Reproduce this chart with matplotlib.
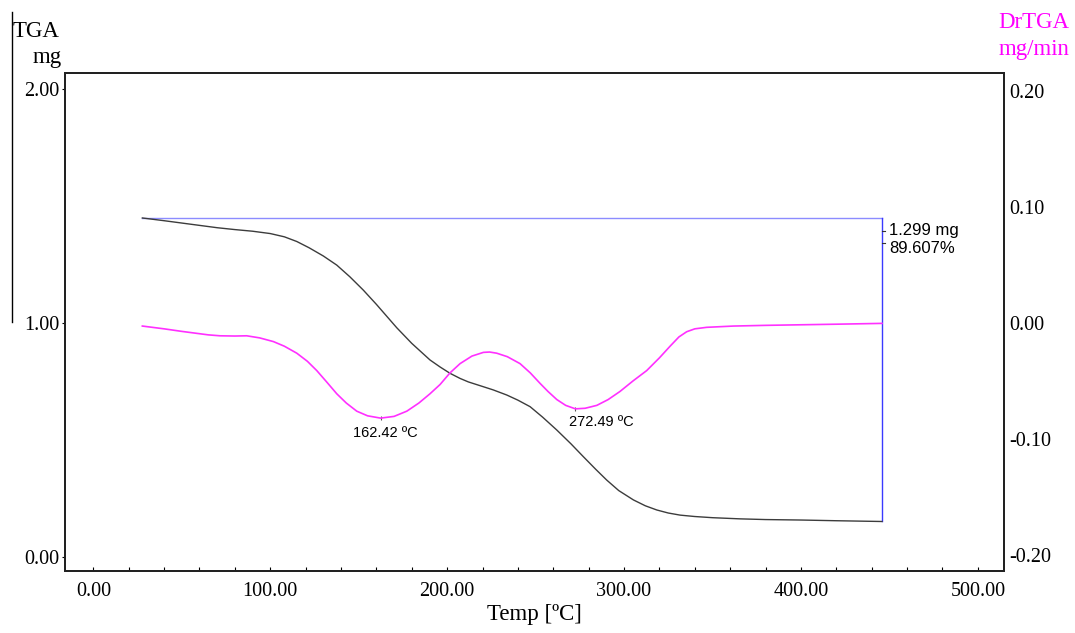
import numpy as np
import matplotlib
matplotlib.use("Agg")
import matplotlib.pyplot as plt
from matplotlib.lines import Line2D

# TGA curve, mass (mg) vs temperature
tga_temp = [27.7, 40, 50, 60, 70, 80, 90, 100, 108, 115, 122, 130, 137.6, 145,
            152.6, 160, 171.5, 180, 190.3, 196, 201.6, 207.3, 212, 218.6, 226,
            233.7, 240, 246.9, 254, 262, 270, 277, 284, 290.2, 297, 305.3, 312,
            318.5, 325, 331.7, 340, 350, 365.6, 380, 400, 420, 445.8]
tga_mass = [1.4497, 1.438, 1.428, 1.418, 1.408, 1.400, 1.393, 1.383, 1.369, 1.349,
            1.322, 1.287, 1.248, 1.198, 1.141, 1.080, 0.980, 0.913, 0.842, 0.812,
            0.785, 0.763, 0.748, 0.732, 0.714, 0.692, 0.670, 0.642, 0.597, 0.542,
            0.483, 0.428, 0.374, 0.328, 0.283, 0.243, 0.218, 0.200, 0.187, 0.178,
            0.172, 0.167, 0.162, 0.159, 0.157, 0.154, 0.1507]

# DrTGA curve, mg/min vs temperature
dtg_temp = [27.7, 40, 50, 58.5, 65, 71.6, 80, 86.7, 94, 101.8, 108, 115, 121,
            126.3, 132, 137.6, 143, 148.9, 155, 162.4, 170, 177.2, 184, 190.3,
            196, 201.6, 207.3, 214, 220.5, 224, 228, 234, 241.2, 247, 252.5, 257,
            262, 267, 272.5, 278, 284.6, 291, 297.7, 305, 312.8, 320, 326, 331,
            335.4, 340, 346.7, 361.8, 380, 400, 420, 445.8]
dtg_rate = [-0.0026, -0.005, -0.0072, -0.0089, -0.0102, -0.011, -0.0112, -0.011,
            -0.0128, -0.016, -0.020, -0.026, -0.033, -0.041, -0.051, -0.061,
            -0.069, -0.076, -0.080, -0.082, -0.0805, -0.076, -0.069, -0.061,
            -0.053, -0.043, -0.035, -0.0285, -0.0253, -0.0250, -0.026, -0.029,
            -0.035, -0.043, -0.052, -0.059, -0.066, -0.071, -0.074, -0.0735,
            -0.071, -0.066, -0.059, -0.050, -0.041, -0.030, -0.020, -0.012,
            -0.0075, -0.005, -0.0037, -0.0026, -0.002, -0.0015, -0.001, -0.0003]

peak_temps = [162.42, 272.49]
peak_rates = [-0.082, -0.074]
peak_labels = ["162.42 ºC", "272.49 ºC"]

step_temp = 445.8
loss_labels = ["1.299 mg", "89.607%"]

serif = "Liberation Serif"
sans = "Liberation Sans"

fig = plt.figure(figsize=(10.75, 6.33), dpi=100)
ax = fig.add_axes([0.0605, 0.098, 0.8735, 0.787])
ax2 = ax.twinx()

ax.plot(tga_temp, tga_mass, color="#3c3c3c", lw=1.0, zorder=3)
ax2.plot(dtg_temp, dtg_rate, color="#ff30ff", lw=1.2, zorder=3)

# mass loss step
m0, m1 = tga_mass[0], tga_mass[-1]
ax.plot([tga_temp[0], step_temp], [m0, m0], color="#8c8cff", lw=1.0, zorder=2)
ax.plot([step_temp, step_temp], [m0, m1], color="#3a3aff", lw=1.0, zorder=2)
for yy in [1.396, 1.344]:
    ax.plot([step_temp, step_temp + 1.8], [yy, yy], color="#333333", lw=0.8)
ax.text(449.8, 1.398, loss_labels[0], fontsize=12, family=sans, va="center", ha="left")
ax.text(449.8, 1.317, loss_labels[1], fontsize=12, family=sans, va="center", ha="left")

# DTG peaks
ax2.plot(peak_temps, peak_rates, ls="none", marker="|", ms=3, color="#555555", mew=0.8)
ax2.text(164.9, -0.0948, peak_labels[0], fontsize=10.5, family=sans, ha="center", va="center")
ax2.text(287.4, -0.0853, peak_labels[1], fontsize=10.5, family=sans, ha="center", va="center")

ax.set_xlim(-16, 514.8)
ax.set_ylim(-0.061, 2.071)
ax2.set_ylim(-0.2138, 0.2158)

ax.set_xticks(np.arange(0, 501, 100))
ax.set_xticks(np.arange(0, 501, 20), minor=True)
ax.set_xticklabels([f"{v:.2f}" for v in np.arange(0, 501, 100)])
ax.set_yticks([0, 1, 2])
ax.set_yticklabels(["0.00", "1.00", "2.00"])
ax2.set_yticks([-0.2, -0.1, 0.0, 0.1, 0.2])
ax2.set_yticklabels(["-0.20", "-0.10", "0.00", "0.10", "0.20"])

ax.tick_params(axis="x", which="both", direction="in", length=3, width=0.8,
               labelsize=14.5, pad=8, top=False)
ax.tick_params(axis="y", which="both", direction="out", length=2, width=0.8,
               labelsize=14.5, pad=2)
ax2.tick_params(axis="y", length=0, labelsize=14.5, pad=4)
for a in (ax, ax2):
    for lab in a.get_xticklabels() + a.get_yticklabels():
        lab.set_family(serif)
    for s in a.spines.values():
        s.set_linewidth(1.4)
        s.set_color("#222222")

ax.set_xlabel("Temp [ºC]", family=serif, fontsize=16.5, labelpad=2)

# axis titles
fig.text(0.0115, 0.951, "TGA", family=serif, fontsize=16.5, ha="left", va="center")
fig.text(0.0575, 0.909, "mg", family=serif, fontsize=16.5, ha="right", va="center")
fig.text(0.9945, 0.965, "DrTGA", family=serif, fontsize=16.5, ha="right", va="center", color="#ff00ff")
fig.text(0.9945, 0.922, "mg/min", family=serif, fontsize=16.5, ha="right", va="center", color="#ff00ff")

# stray vertical rule at the far left
fig.add_artist(Line2D([0.0112, 0.0112], [0.981, 0.491], transform=fig.transFigure,
                      color="black", lw=1.0))

fig.savefig("out.png", dpi=100)
